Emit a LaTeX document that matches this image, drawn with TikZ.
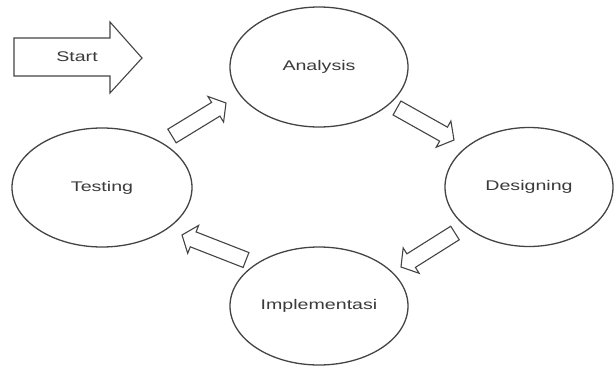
\documentclass[tikz,border=0pt]{standalone}
\usepackage{fontspec}
\newfontfamily\labfont[FakeStretch=1.4]{Liberation Sans}
\usetikzlibrary{shapes.geometric,calc}
\definecolor{linec}{HTML}{444444}
\definecolor{textc}{HTML}{3A3A3A}
\tikzset{
  ell/.style={draw=linec, line width=1.3pt, ellipse, inner sep=0pt,
    font=\labfont\fontsize{14}{16}\selectfont, text=textc},
  blk/.style={draw=linec, line width=1.1pt, line join=miter, fill=white},
  lab/.style={font=\labfont\fontsize{14}{16}\selectfont, text=textc, inner sep=0pt}
}
\newcommand{\blockarrow}[2]{%
  \coordinate (#1#2B) at ($(#2)!12pt!(#1)$);
  \draw[blk] ($(#1)!8pt!90:(#2)$) -- ($(#1#2B)!8pt!-90:(#1)$) -- ($(#1#2B)!15pt!-90:(#1)$)
    -- (#2) -- ($(#1#2B)!15pt!90:(#1)$) -- ($(#1#2B)!8pt!90:(#1)$)
    -- ($(#1)!8pt!-90:(#2)$) -- cycle;}
\begin{document}
\begin{tikzpicture}[x=1pt,y=-1pt]
\path[use as bounding box, fill=white] (0,0) rectangle (616,367);
% ellipses
\node[ell, minimum width=178pt, minimum height=120pt] (ana) at (319,67) {Analysis};
\node[ell, minimum width=168pt, minimum height=119pt] (des) at (529,187) {Designing};
\node[ell, minimum width=178pt, minimum height=118pt] (imp) at (319,306) {Implementasi};
\node[ell, minimum width=180pt, minimum height=119pt] (tes) at (102,187.5) {Testing};
% start arrow
\coordinate (s1) at (14,38);
\coordinate (s2) at (110,38);
\coordinate (s3) at (110,22);
\coordinate (s4) at (142,58);
\coordinate (s5) at (110,93);
\coordinate (s6) at (110,76);
\coordinate (s7) at (14,76);
\draw[blk] (s1) -- (s2) -- (s3) -- (s4) -- (s5) -- (s6) -- (s7) -- cycle;
\node[lab] (start) at (77,57) {Start};
% block arrows between phases
\coordinate (aT) at (172,136);
\coordinate (aH) at (226,103);
\coordinate (bT) at (397,108);
\coordinate (bH) at (454,140);
\coordinate (cT) at (455,233);
\coordinate (cH) at (401,267);
\coordinate (dT) at (246,260);
\coordinate (dH) at (182,235);
\blockarrow{aT}{aH}
\blockarrow{bT}{bH}
\blockarrow{cT}{cH}
\blockarrow{dT}{dH}
\end{tikzpicture}
\end{document}
